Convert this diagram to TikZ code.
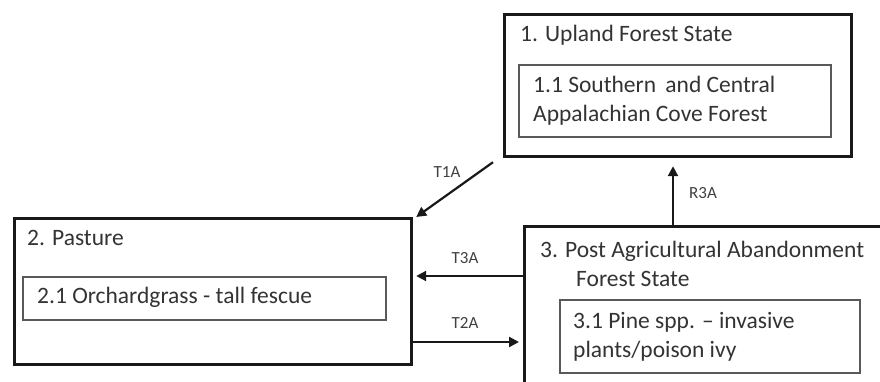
\documentclass[tikz,border=0pt]{standalone}
\usepackage{fontspec}
\setmainfont{Carlito}
\usetikzlibrary{arrows.meta,positioning}

\begin{document}
\begin{tikzpicture}[x=1pt, y=-1pt,
	statebox/.style={draw=black!90, line width=3.2pt, anchor=north west},
	phasebox/.style={draw=black!65, line width=1.5pt, anchor=north west},
	txt/.style={anchor=west, align=left, inner sep=0pt, text=black!80,
		font=\fontsize{23.5}{29}\selectfont},
	lbl/.style={text=black!75, inner sep=0pt, font=\fontsize{17}{20}\selectfont},
	>={Triangle[length=10pt,width=10pt]}]
\clip (0,0) rectangle (880,381);
% state boxes
\node[statebox, minimum width=347, minimum height=142] (up) at (503,13) {};
\node[statebox, minimum width=397, minimum height=146] (past) at (13,217) {};
\node[statebox, minimum width=380, minimum height=180] (post) at (523,225) {};
% community boxes
\node[phasebox, minimum width=312, minimum height=72] (up1) at (518,64) {};
\node[phasebox, minimum width=363, minimum height=43] (past1) at (22,276) {};
\node[phasebox, minimum width=300, minimum height=73] (post1) at (559,299) {};
% texts
\node[txt] (upT) at (520,35) {1. Upland Forest State};
\node[txt] (up1T) at (533,101) {1.1 Southern \,and Central\\Appalachian Cove Forest};
\node[txt] (pastT) at (27,238) {2. Pasture};
\node[txt] (past1T) at (37,297) {2.1 Orchardgrass - tall fescue};
\node[txt] (postT) at (540,264) {3. Post Agricultural Abandonment\\\hspace*{36pt}Forest State};
\node[txt] (post1T) at (573,337) {3.1 Pine spp. -- invasive\\plants/poison ivy};
% transitions
\coordinate (t1a) at ([xshift=-10pt,yshift=-4pt]up.south west);
\coordinate (r3a) at ([xshift=150pt]post.north west);
\coordinate (r3b) at ([yshift=-8pt]up.south -| r3a);
\coordinate (t3a) at (0,276);
\coordinate (t2a) at (0,342);
\path[->, line width=2.2pt, black!90]
(t1a) edge ([xshift=3pt]past.north east)
(r3a) edge (r3b)
(post.west |- t3a) edge ([xshift=3pt]past.east |- t3a)
(past.east |- t2a) edge ([xshift=-4pt]post.west |- t2a)
;
\node[lbl] (t1aL) at (447,172) {T1A};
\node[lbl] (r3aL) at (703,193) {R3A};
\node[lbl] (t3aL) at (465,258) {T3A};
\node[lbl] (t2aL) at (465,323) {T2A};
\end{tikzpicture}
\end{document}
